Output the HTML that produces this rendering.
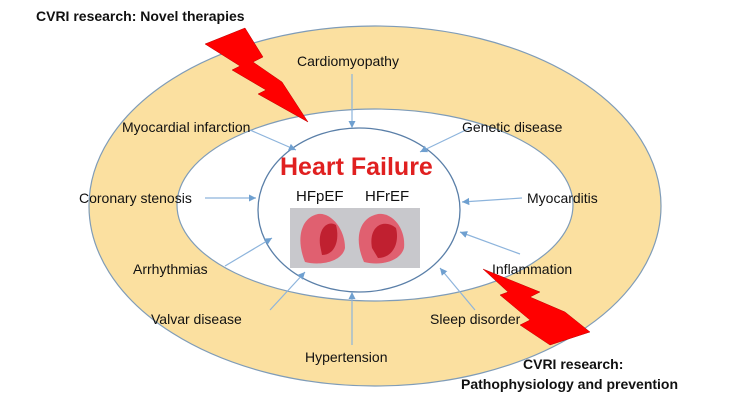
<!DOCTYPE html>
<html><head><meta charset="utf-8"><style>
body{margin:0;width:750px;height:400px;background:#fff;overflow:hidden}
svg{display:block}
text{font-family:"Liberation Sans",sans-serif;fill:#111}
</style></head><body>
<svg width="750" height="400" viewBox="0 0 750 400">
<defs><marker id="a" markerWidth="8" markerHeight="8" refX="6" refY="3" orient="auto"><path d="M0,0 L6,3 L0,6 z" fill="#6fa0d0"/></marker></defs>
<ellipse cx="375" cy="206" rx="286" ry="180" fill="#fbe0a0" stroke="#7f9cb8" stroke-width="1.2"/>
<ellipse cx="375" cy="205" rx="198" ry="96" fill="#fff" stroke="#7f9cb8" stroke-width="1.2"/>
<ellipse cx="359" cy="210" rx="101" ry="82" fill="#fff" stroke="#5a7fa8" stroke-width="1.3"/>
<g stroke="#8db4dc" stroke-width="1.2" marker-end="url(#a)">
<line x1="352" y1="74" x2="352" y2="128"/>
<line x1="250" y1="130" x2="296" y2="150"/>
<line x1="470" y1="128" x2="420" y2="152"/>
<line x1="205" y1="198" x2="256" y2="198"/>
<line x1="522" y1="198" x2="462" y2="202"/>
<line x1="225" y1="266" x2="272" y2="238"/>
<line x1="520" y1="254" x2="460" y2="232"/>
<line x1="270" y1="310" x2="305" y2="272"/>
<line x1="475" y1="310" x2="440" y2="268"/>
<line x1="352" y1="345" x2="352" y2="292"/>
</g>
<text x="36" y="21" font-size="14" font-weight="bold">CVRI research: Novel therapies</text>
<text x="297" y="66" font-size="14">Cardiomyopathy</text>
<text x="122" y="132" font-size="14">Myocardial infarction</text>
<text x="462" y="132" font-size="14">Genetic disease</text>
<text x="79" y="203" font-size="14">Coronary stenosis</text>
<text x="527" y="203" font-size="14">Myocarditis</text>
<text x="133" y="274" font-size="14">Arrhythmias</text>
<text x="492" y="274" font-size="14">Inflammation</text>
<text x="151" y="324" font-size="14">Valvar disease</text>
<text x="430" y="324" font-size="14">Sleep disorder</text>
<text x="305" y="362" font-size="14">Hypertension</text>
<text x="523" y="369" font-size="14" font-weight="bold">CVRI research:</text>
<text x="461" y="389" font-size="14" font-weight="bold">Pathophysiology and prevention</text>
<text x="280" y="175" font-size="25" font-weight="bold" style="fill:#e02020">Heart Failure</text>
<text x="296" y="201" font-size="15">HFpEF</text>
<text x="365" y="201" font-size="15">HFrEF</text>
<rect x="290" y="208" width="130" height="60" fill="#c8c8cc"/>
<path d="M305,262 C296,240 300,218 318,214 C330,212 345,228 345,248 C342,262 320,266 305,262z" fill="#e06070"/>
<path d="M320,245 C318,228 328,220 336,225 C340,240 335,255 322,255z" fill="#c02030"/>
<path d="M364,262 C354,240 358,218 378,214 C392,212 406,228 404,248 C400,262 380,266 364,262z" fill="#e06070"/>
<path d="M372,248 C368,226 384,218 396,228 C400,244 392,258 378,258z" fill="#c02030"/>
<polygon points="205,44 245,28 263,57 253,62 282,82 308,122 258,94 266,90 232,70 240,66" fill="#f00" stroke="#b00" stroke-width="0.5"/>
<polygon points="483,269 540,292 530,297 565,312 590,332 550,345 520,325 530,320 500,295 508,292" fill="#f00" stroke="#b00" stroke-width="0.5"/>
</svg>
</body></html>
